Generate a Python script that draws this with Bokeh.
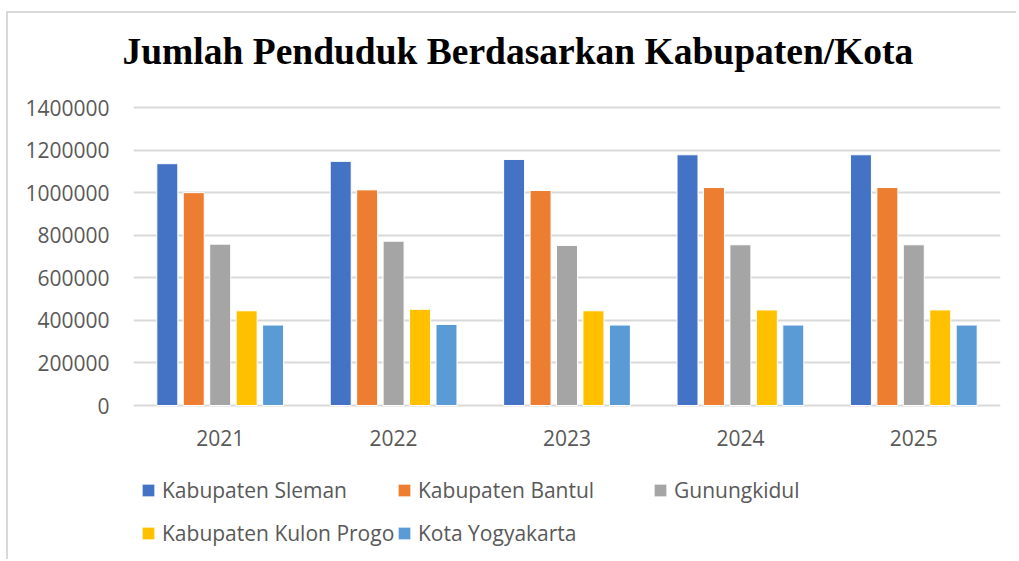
from bokeh.plotting import figure
from bokeh.models import (FactorRange, Range1d, FixedTicker, BasicTickFormatter,
                          Legend, LegendItem, ColumnDataSource, Title)
from bokeh.transform import dodge
from bokeh.core.properties import value
from bokeh.embed import file_html
from bokeh.resources import INLINE

# ---- data ----
years = ["2021", "2022", "2023", "2024", "2025"]
series_names = ["Kabupaten Sleman", "Kabupaten Bantul", "Gunungkidul",
                "Kabupaten Kulon Progo", "Kota Yogyakarta"]
sleman = [1136000, 1147000, 1156000, 1178000, 1178000]
bantul = [1000000, 1013000, 1010000, 1024000, 1024000]
gunungkidul = [758000, 772000, 752000, 755000, 755000]
kulon_progo = [445000, 452000, 445000, 449000, 449000]
kota_yogyakarta = [378000, 381000, 378000, 378000, 378000]
y_ticks = [0, 200000, 400000, 600000, 800000, 1000000, 1200000, 1400000]
title_text = "Jumlah Penduduk Berdasarkan Kabupaten/Kota"

colors = ["#4472C4", "#ED7D31", "#A5A5A5", "#FFC000", "#5B9BD5"]
keys = ["sleman", "bantul", "gunungkidul", "kulon_progo", "kota"]
source = ColumnDataSource(dict(year=years, sleman=sleman, bantul=bantul,
                               gunungkidul=gunungkidul, kulon_progo=kulon_progo,
                               kota=kota_yogyakarta))

FONT = "Open Sans"
TXT = "#595959"

# ---- layout geometry (pixels inside the canvas) ----
W, H = 1010, 548
LEFT, RIGHT, TOP = 125, 18, 58
GRID_TOP, GRID_ZERO = 94, 392       # rows of the top gridline and of zero
YEAR_ROW = 424                      # row of the year labels
LEG_ROW1, LEG_ROW2 = 477, 520       # rows of the two legend lines
per_px = max(y_ticks) / (GRID_ZERO - GRID_TOP)
y_end = (GRID_ZERO - TOP) * per_px
y_start = -(H - GRID_ZERO) * per_px
year_y = -(YEAR_ROW - GRID_ZERO) * per_px

p = figure(width=W, height=H, x_range=FactorRange(*years),
           y_range=Range1d(y_start, y_end), output_backend="svg",
           toolbar_location=None, x_axis_location=None,
           min_border_left=LEFT, min_border_right=RIGHT,
           min_border_top=TOP, min_border_bottom=0)
p.styles = {"border-top": "2px solid #d9d9d9", "border-left": "2px solid #d9d9d9",
            "margin-top": "11px", "margin-left": "6px"}

p.title = Title(text=title_text, align="left", offset=-11, standoff=0,
                text_font="Liberation Serif", text_font_size="37.5px",
                text_font_style="bold", text_color="black")

offsets = [-0.305, -0.1525, 0.0, 0.1525, 0.305]
renderers = []
for k, off, c in zip(keys, offsets, colors):
    r = p.vbar(x=dodge("year", off, range=p.x_range), top=k, width=0.121,
               source=source, fill_color=c, line_color="white", line_width=1)
    renderers.append(r)

# year labels under the bars
p.text(x=years, y=[year_y] * len(years), text=years, text_align="center",
       text_baseline="middle", text_font=value(FONT), text_font_size="21px",
       text_color=TXT)

p.outline_line_color = None
p.xgrid.grid_line_color = None
p.ygrid.grid_line_color = "#d9d9d9"
p.ygrid.grid_line_width = 2

p.yaxis.ticker = FixedTicker(ticks=y_ticks)
p.yaxis.formatter = BasicTickFormatter(use_scientific=False)
ax = p.yaxis[0]
ax.axis_line_color = None
ax.major_tick_line_color = None
ax.minor_tick_line_color = None
ax.major_tick_out = 0
ax.major_tick_in = 0
ax.major_label_text_font = FONT
ax.major_label_text_font_size = "21px"
ax.major_label_text_color = TXT
ax.major_label_standoff = 24

ITEM_H = 29
common = dict(orientation="horizontal",
              glyph_width=16, glyph_height=16, label_height=ITEM_H,
              label_standoff=6, label_width=234, spacing=0, padding=0, margin=0,
              border_line_color=None, background_fill_alpha=0,
              label_text_font=FONT, label_text_font_size="21px",
              label_text_color=TXT)
leg1 = Legend(items=[LegendItem(label=series_names[i], renderers=[renderers[i]]) for i in range(3)],
              location=(7, H - LEG_ROW1 - ITEM_H // 2), **common)
leg2 = Legend(items=[LegendItem(label=series_names[i], renderers=[renderers[i]]) for i in range(3, 5)],
              location=(7, H - LEG_ROW2 - ITEM_H // 2), **common)
p.add_layout(leg1)
p.add_layout(leg2)

open("out.html", "w").write(file_html(p, INLINE))
